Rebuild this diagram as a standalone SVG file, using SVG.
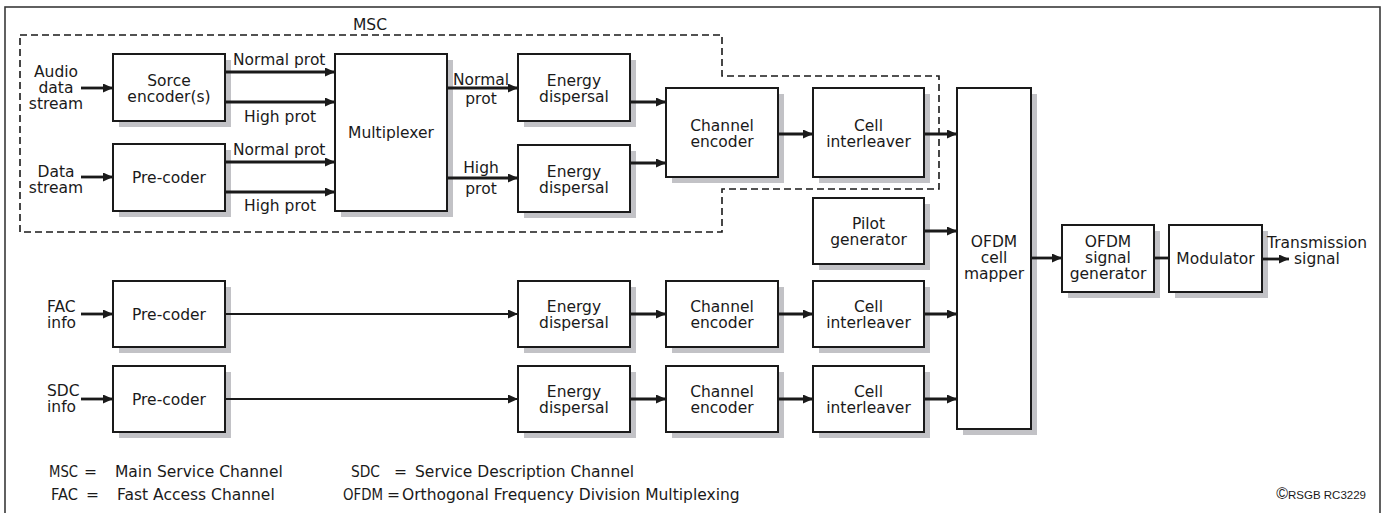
<svg xmlns="http://www.w3.org/2000/svg" width="1386" height="513" viewBox="0 0 1386 513">
<defs>
<marker id="ah" markerUnits="userSpaceOnUse" markerWidth="11" markerHeight="10" refX="10" refY="4.5" orient="auto">
<path d="M0,0 L10,4.5 L0,9 z" fill="#1a1a1a"/>
</marker>
</defs>
<style>
text{font-family:"DejaVu Sans",sans-serif;font-size:15.5px;fill:#1a1a1a}
.m{text-anchor:middle}
.sh{fill:#c2c2c6}
.bx{fill:#fff;stroke:#1a1a1a;stroke-width:2}
.ar{stroke:#1a1a1a;stroke-width:2.8;fill:none;marker-end:url(#ah)}
.ln{stroke:#1a1a1a;stroke-width:2.8;fill:none}
.lg{stroke:#1a1a1a;stroke-width:2.2;fill:none;marker-end:url(#ah)}
.dash{stroke:#1a1a1a;stroke-width:1.6;fill:none;stroke-dasharray:7,4}
.frame{stroke:#3a3a3a;stroke-width:1.6;fill:none}
.cp{font-family:"Liberation Sans",Arial,sans-serif;font-size:11.5px}
</style>
<rect class="frame" x="5" y="7" width="1375" height="520"/>
<g id="msc-boundary">
<path class="dash" d="M20,35 H722 V76 H939 V189 H722 V232 H20 Z"/>
<text class="m" x="370" y="30">MSC</text>
</g>

<g id="n-src"><rect class="sh" x="119" y="60" width="112" height="67"/><rect class="bx" x="113" y="54" width="112" height="67"/><text class="m" x="169" y="85.5">Sorce</text><text class="m" x="169" y="101.5">encoder(s)</text></g>
<g id="n-pre1"><rect class="sh" x="119" y="150" width="112" height="67"/><rect class="bx" x="113" y="144" width="112" height="67"/><text class="m" x="169" y="183">Pre-coder</text></g>
<g id="n-mux"><rect class="sh" x="341" y="60" width="112" height="157"/><rect class="bx" x="335" y="54" width="112" height="157"/><text class="m" x="391" y="138">Multiplexer</text></g>
<g id="n-ed1"><rect class="sh" x="524" y="60" width="112" height="67"/><rect class="bx" x="518" y="54" width="112" height="67"/><text class="m" x="574" y="85.5">Energy</text><text class="m" x="574" y="101.5">dispersal</text></g>
<g id="n-ed2"><rect class="sh" x="524" y="151" width="112" height="67"/><rect class="bx" x="518" y="145" width="112" height="67"/><text class="m" x="574" y="176.5">Energy</text><text class="m" x="574" y="192.5">dispersal</text></g>
<g id="n-ce1"><rect class="sh" x="672" y="94" width="112" height="89"/><rect class="bx" x="666" y="88" width="112" height="89"/><text class="m" x="722" y="131">Channel</text><text class="m" x="722" y="147">encoder</text></g>
<g id="n-ci1"><rect class="sh" x="819" y="94" width="111" height="89"/><rect class="bx" x="813" y="88" width="111" height="89"/><text class="m" x="868.5" y="131">Cell</text><text class="m" x="868.5" y="147">interleaver</text></g>
<g id="n-pilot"><rect class="sh" x="819" y="204" width="111" height="66"/><rect class="bx" x="813" y="198" width="111" height="66"/><text class="m" x="868.5" y="229">Pilot</text><text class="m" x="868.5" y="245">generator</text></g>
<g id="n-mapper"><rect class="sh" x="963" y="94" width="74" height="341"/><rect class="bx" x="957" y="88" width="74" height="341"/><text class="m" x="994" y="247">OFDM</text><text class="m" x="994" y="263">cell</text><text class="m" x="994" y="279">mapper</text></g>
<g id="n-siggen"><rect class="sh" x="1068" y="231" width="92" height="67"/><rect class="bx" x="1062" y="225" width="92" height="67"/><text class="m" x="1108" y="247">OFDM</text><text class="m" x="1108" y="263">signal</text><text class="m" x="1108" y="279">generator</text></g>
<g id="n-mod"><rect class="sh" x="1175" y="231" width="93" height="67"/><rect class="bx" x="1169" y="225" width="93" height="67"/><text class="m" x="1215.5" y="264">Modulator</text></g>

<g id="n-pre-fac"><rect class="sh" x="119" y="287" width="112" height="66"/><rect class="bx" x="113" y="281" width="112" height="66"/><text class="m" x="169" y="319.5">Pre-coder</text></g>
<g id="n-ed-fac"><rect class="sh" x="524" y="287" width="112" height="66"/><rect class="bx" x="518" y="281" width="112" height="66"/><text class="m" x="574" y="312">Energy</text><text class="m" x="574" y="328">dispersal</text></g>
<g id="n-ce-fac"><rect class="sh" x="672" y="287" width="112" height="66"/><rect class="bx" x="666" y="281" width="112" height="66"/><text class="m" x="722" y="312">Channel</text><text class="m" x="722" y="328">encoder</text></g>
<g id="n-ci-fac"><rect class="sh" x="819" y="287" width="111" height="66"/><rect class="bx" x="813" y="281" width="111" height="66"/><text class="m" x="868.5" y="312">Cell</text><text class="m" x="868.5" y="328">interleaver</text></g>

<g id="n-pre-sdc"><rect class="sh" x="119" y="372" width="112" height="66"/><rect class="bx" x="113" y="366" width="112" height="66"/><text class="m" x="169" y="404.5">Pre-coder</text></g>
<g id="n-ed-sdc"><rect class="sh" x="524" y="372" width="112" height="66"/><rect class="bx" x="518" y="366" width="112" height="66"/><text class="m" x="574" y="397">Energy</text><text class="m" x="574" y="413">dispersal</text></g>
<g id="n-ce-sdc"><rect class="sh" x="672" y="372" width="112" height="66"/><rect class="bx" x="666" y="366" width="112" height="66"/><text class="m" x="722" y="397">Channel</text><text class="m" x="722" y="413">encoder</text></g>
<g id="n-ci-sdc"><rect class="sh" x="819" y="372" width="111" height="66"/><rect class="bx" x="813" y="366" width="111" height="66"/><text class="m" x="868.5" y="397">Cell</text><text class="m" x="868.5" y="413">interleaver</text></g>

<g id="inputs">
<text class="m" x="56" y="77">Audio</text><text class="m" x="56" y="93">data</text><text class="m" x="56" y="109">stream</text>
<text class="m" x="56" y="177">Data</text><text class="m" x="56" y="193">stream</text>
<text x="47" y="312">FAC</text><text x="47" y="328">info</text>
<text x="47" y="396">SDC</text><text x="47" y="412">info</text>
<text x="1267" y="248">Transmission</text><text x="1294" y="264">signal</text>
</g>

<g id="connectors">
<line class="ar" x1="81" y1="88" x2="113" y2="88"/>
<line class="ar" x1="81" y1="177" x2="113" y2="177"/>
<line class="ar" x1="225" y1="72" x2="335" y2="72"/>
<line class="ar" x1="225" y1="102" x2="335" y2="102"/>
<line class="ar" x1="225" y1="162" x2="335" y2="162"/>
<line class="ar" x1="225" y1="192" x2="335" y2="192"/>
<line class="ar" x1="447" y1="88" x2="518" y2="88"/>
<line class="ar" x1="447" y1="178" x2="518" y2="178"/>
<line class="ar" x1="630" y1="102" x2="666" y2="102"/>
<line class="ar" x1="630" y1="163" x2="666" y2="163"/>
<line class="ar" x1="778" y1="134" x2="813" y2="134"/>
<line class="ar" x1="924" y1="134" x2="957" y2="134"/>
<line class="ar" x1="924" y1="231" x2="957" y2="231"/>
<line class="ar" x1="81" y1="314" x2="113" y2="314"/>
<line class="lg" x1="225" y1="314" x2="518" y2="314"/>
<line class="ar" x1="630" y1="314" x2="666" y2="314"/>
<line class="ar" x1="778" y1="314" x2="813" y2="314"/>
<line class="ar" x1="924" y1="314" x2="957" y2="314"/>
<line class="ar" x1="81" y1="399" x2="113" y2="399"/>
<line class="lg" x1="225" y1="399" x2="518" y2="399"/>
<line class="ar" x1="630" y1="399" x2="666" y2="399"/>
<line class="ar" x1="778" y1="399" x2="813" y2="399"/>
<line class="ar" x1="924" y1="399" x2="957" y2="399"/>
<line class="ar" x1="1031" y1="258" x2="1062" y2="258"/>
<line class="ln" x1="1154" y1="258" x2="1169" y2="258"/>
<line class="ar" x1="1262" y1="259" x2="1289" y2="259"/>
<text x="233" y="64.5">Normal prot</text>
<text class="m" x="280" y="122">High prot</text>
<text x="233" y="154.5">Normal prot</text>
<text class="m" x="280" y="211">High prot</text>
<text class="m" x="481" y="85">Normal</text>
<text class="m" x="481" y="104">prot</text>
<text class="m" x="481" y="173">High</text>
<text class="m" x="481" y="194">prot</text>
</g>

<g id="legend">
<text x="49" y="477" textLength="29" lengthAdjust="spacingAndGlyphs">MSC</text><text x="84" y="477">=</text><text x="115" y="477">Main Service Channel</text>
<text x="351" y="477" textLength="29" lengthAdjust="spacingAndGlyphs">SDC</text><text x="394" y="477">=</text><text x="415" y="477">Service Description Channel</text>
<text x="51" y="500" textLength="27" lengthAdjust="spacingAndGlyphs">FAC</text><text x="86" y="500">=</text><text x="117" y="500">Fast Access Channel</text>
<text x="343" y="500" textLength="40" lengthAdjust="spacingAndGlyphs">OFDM</text><text x="387" y="500">=</text><text x="402" y="500">Orthogonal Frequency Division Multiplexing</text>
<text class="cp" x="1366" y="499" text-anchor="end"><tspan style="font-size:16px">©</tspan>RSGB RC3229</text>
</g>
</svg>
